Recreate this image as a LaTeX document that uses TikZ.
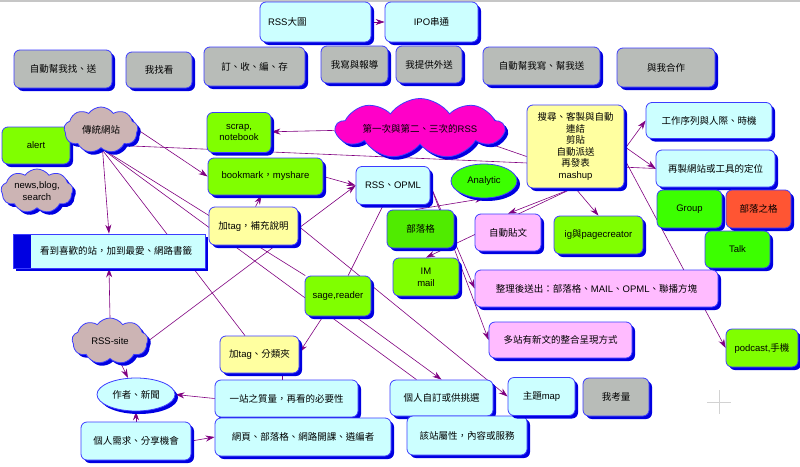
\documentclass[tikz,border=0pt]{standalone}
\usepackage{fontspec}
\setmainfont{Liberation Sans}
\newfontfamily\cjkf{Noto Sans CJK TC}
\newcommand\zht[1]{{\cjkf #1}}
\usetikzlibrary{shapes.geometric,shapes.symbols,shadows,arrows.meta,calc,backgrounds}
\definecolor{bxgray}{RGB}{184,188,184}
\definecolor{bxcyan}{RGB}{204,255,255}
\definecolor{bxgreen}{RGB}{128,255,0}
\definecolor{bxgreen2}{RGB}{60,255,0}
\definecolor{bxgreen3}{RGB}{80,235,0}
\definecolor{bxyellow}{RGB}{255,255,160}
\definecolor{bxpink}{RGB}{255,187,255}
\definecolor{bxmag}{RGB}{255,0,200}
\definecolor{bxrose}{RGB}{204,180,180}
\definecolor{bxorange}{RGB}{255,85,51}
\definecolor{bxborder}{RGB}{60,60,255}
\definecolor{bxshadow}{RGB}{0,0,225}
\definecolor{lnpurple}{RGB}{128,0,128}
\tikzset{
  wh/.style 2 args={minimum width=#1pt,minimum height=#2pt},
  txt/.style={font=\fontsize{9.5}{11.6}\selectfont, align=center},
  shad/.style={drop shadow={shadow xshift=3pt,shadow yshift=-3pt,fill=bxshadow,opacity=1}},
  box/.style={draw=bxborder, line width=0.8pt, rounded corners=6pt, inner sep=0pt, txt, shad},
  kanbox/.style={draw=bxborder, line width=0.8pt, inner sep=0pt, txt, shad, fill=bxcyan,
     path picture={\fill[bxshadow] (path picture bounding box.south west) rectangle ([xshift=18pt]path picture bounding box.north west);}},
  cloudbox/.style={cloud, cloud puffs=9, cloud puff arc=110, cloud ignores aspect, draw=bxborder, line width=0.8pt, inner sep=0pt, shad},
  ellbox/.style={ellipse, draw=bxborder, line width=0.8pt, inner sep=0pt, txt, shad},
  ln/.style={draw=lnpurple, line width=0.6pt},
  arr/.style={ln, -{Stealth[length=9pt,width=6pt]}},
}
\begin{document}
\begin{tikzpicture}[x=1pt,y=-1pt]
\useasboundingbox (0,0) rectangle (800,466);
\draw[gray!35, line width=1pt] (707,402) -- (731,402) (719,390) -- (719,414);

% top
\node[box,fill=bxcyan,wh={111}{40},text width=95pt,align=left] (big) at (315.5,22) {RSS\zht{大圖}};
\node[box,fill=bxcyan,wh={93}{40}] (ipo) at (431.5,22) {IPO\zht{串通}};
% gray row
\node[box,fill=bxgray,wh={98}{38}] (g1) at (63,69) {\zht{自動幫我找、送}};
\node[box,fill=bxgray,wh={66}{36}] (g2) at (159,70) {\zht{我找看}};
\node[box,fill=bxgray,wh={101}{39}] (g3) at (254.5,66.5) {\zht{訂、收、編、存}};
\node[box,fill=bxgray,wh={67}{37}] (g4) at (354.5,64.5) {\zht{我寫與報導}};
\node[box,fill=bxgray,wh={66}{37}] (g5) at (429,64.5) {\zht{我提供外送}};
\node[box,fill=bxgray,wh={117}{38}] (g6) at (541.5,66) {\zht{自動幫我寫、幫我送}};
\node[box,fill=bxgray,wh={98}{39}] (g7) at (666,67.5) {\zht{與我合作}};
% left
\node[box,fill=bxgreen,wh={68}{37}] (alert) at (36,145.5) {alert};
\node[cloudbox,fill=bxrose,wh={74}{46}] (trad) at (101,130) {};
\node[txt] (tradt) at (trad) {\zht{傳統網站}};
\node[cloudbox,fill=bxrose,wh={72}{44}] (news) at (37,191) {};
\node[txt] (newst) at (news) {news,blog,\\search};
\node[box,fill=bxgreen,wh={64}{40}] (scrap) at (239,132.5) {scrap,\\notebook};
\node[box,fill=bxgreen,wh={115}{37}] (bm) at (265.5,176.5) {bookmark\zht{，}myshare};
\node[box,fill=bxyellow,wh={89}{38}] (tagadd) at (253.5,226) {\zht{加}tag\zht{，補充說明}};
\node[kanbox,wh={192}{34}] (kan) at (109,251) {\hspace*{14pt}\zht{看到喜歡的站，加到最愛、網路書籤}};
% middle
\node[cloudbox,fill=bxmag,wh={168}{60}] (mag) at (420,128.5) {};
\node[txt] (magt) at (mag) {\zht{第一次與第二、三次的}RSS};
\node[box,fill=bxcyan,wh={74}{38}] (rssopml) at (393,185.5) {RSS\zht{、}OPML};
\node[ellbox,fill=bxgreen2,wh={66}{34}] (ana) at (484,181) {Analytic};
\node[box,fill=bxyellow,wh={97}{83}] (yellow) at (575.5,146.5) {\zht{搜尋、客製與自動}\\\zht{連結}\\\zht{剪貼}\\\zht{自動派送}\\\zht{再發表}\\mashup};
% right
\node[box,fill=bxcyan,wh={126}{36}] (work) at (709,120.5) {\zht{工作序列與人際、時機}};
\node[box,fill=bxcyan,wh={119}{37}] (remake) at (715.5,168.5) {\zht{再製網站或工具的定位}};
\node[box,fill=bxgreen2,wh={65}{38}] (group) at (689.5,209) {Group};
\node[box,fill=bxorange,wh={65}{38}] (blogge) at (758.5,209) {\zht{部落之格}};
\node[box,fill=bxgreen2,wh={65}{37}] (talk) at (737.5,249.5) {Talk};
\node[box,fill=bxgreen3,wh={67}{38}] (blog) at (420.5,229) {\zht{部落格}};
\node[box,fill=bxpink,wh={66}{37}] (auto) at (508,232.5) {\zht{自動貼文}};
\node[box,fill=bxgreen,wh={89}{38}] (ig) at (598.5,235) {ig\zht{與}pagecreator};
\node[box,fill=bxgreen,wh={66}{38}] (im) at (426,277) {IM\\mail};
\node[box,fill=bxpink,wh={243}{37}] (sort) at (596.5,288.5) {\zht{整理後送出：部落格、}MAIL\zht{、}OPML\zht{、聯播方塊}};
\node[box,fill=bxpink,wh={143}{36}] (multi) at (560.5,340) {\zht{多站有新文的整合呈現方式}};
\node[box,fill=bxgreen,wh={72}{38}] (podcast) at (762,348) {podcast,\zht{手機}};
% bottom
\node[box,fill=bxgreen,wh={66}{40}] (sage) at (338,296) {sage,reader};
\node[cloudbox,fill=bxrose,wh={76}{46}] (rsssite) at (110,341) {};
\node[txt] (rsssitet) at (rsssite) {RSS-site};
\node[box,fill=bxyellow,wh={79}{37}] (tagcls) at (259.5,354.5) {\zht{加}tag\zht{、分類夾}};
\node[ellbox,fill=bxcyan,wh={78}{33}] (author) at (136,394.5) {\zht{作者、新聞}};
\node[box,fill=bxcyan,wh={143}{37}] (quality) at (286.5,398.5) {\zht{一站之質量，再看的必要性}};
\node[box,fill=bxcyan,wh={110}{38}] (need) at (136,441) {\zht{個人需求、分享機會}};
\node[box,fill=bxcyan,wh={176}{38}] (web) at (303,437) {\zht{網頁、部落格、網路開課、遴編者}};
\node[box,fill=bxcyan,wh={103}{36}] (pers) at (441.5,398) {\zht{個人自訂或供挑選}};
\node[box,fill=bxcyan,wh={120}{39}] (site) at (467,435.5) {\zht{該站屬性，內容或服務}};
\node[box,fill=bxcyan,wh={67}{38}] (map) at (541.5,396.5) {\zht{主題}map};
\node[box,fill=bxgray,wh={66}{38}] (consider) at (616,397) {\zht{我考量}};

\begin{scope}[on background layer]
\fill[white] (0,0) rectangle (800,466);
\fill[gray!45] (0,0) rectangle (800,2);
\draw[arr] (big) -- (ipo);
\draw[arr] (trad.east) -- (bm.west);
\draw[arr] (trad) -- (kan.north);
\draw[ln] (trad.south) -- (tagcls);
\draw[ln] (trad.south) -- (pers);
\draw[ln] (trad.south) -- (sage);
\draw[ln] ($(trad.east)+(-6,16)$) -- (remake.west);
\draw[arr] (mag) -- (scrap);
\draw[ln] ($(mag.south)+(55,-6)$) -- ($(yellow.west)+(0,10)$);
\draw[arr] ($(yellow.east)+(0,3)$) -- (work.west);
\draw[arr] (yellow.east) -- (remake.west);
\draw[arr] ($(yellow.east)+(-4,5)$) -- (podcast.west);
\draw[arr] ($(yellow.south)+(-3,0)$) -- (auto.north);
\draw[arr] ($(yellow.south)+(-3,0)$) -- (im.north);
\draw[arr] (yellow.south) -- (ig.north);
\draw[arr] ($(blog.north)+(-5,0)$) -- (ana.south);
\draw[arr] (rssopml.east) -- (sort.west);
\draw[arr] (rssopml.east) -- (multi.west);
\draw[ln] (sage) -- (rssopml);
\draw[arr] ($(sage.south)+(-15,0)$) -- ($(tagcls.east)+(0,-2)$);
\draw[arr] ($(sage.south)+(17,0)$) -- (pers.north);
\draw[arr] ($(tagadd.north)+(2,0)$) -- ($(bm.south)+(-4,0)$);
\draw[arr] (rsssite.east) -- (rssopml.west);
\draw[arr] (bm.east) -- (rssopml.west);
\draw[arr] (tagadd.east) -- (map.west);
\draw[arr] (rsssite.north) -- (kan.south);
\draw[arr] (rsssite) -- (author);
\draw[arr] (quality.west) -- (author.east);
\draw[arr] (need.north) -- (author.south);
\draw[arr] (need.east) -- (web.west);
\draw[ln] ($(quality.north)+(-4,0)$) -- ($(tagcls.south)+(23,0)$);
\draw[ln] ($(pers.south)+(22,0)$) -- ($(site.north)+(-4,0)$);
\end{scope}
\end{tikzpicture}
\end{document}
